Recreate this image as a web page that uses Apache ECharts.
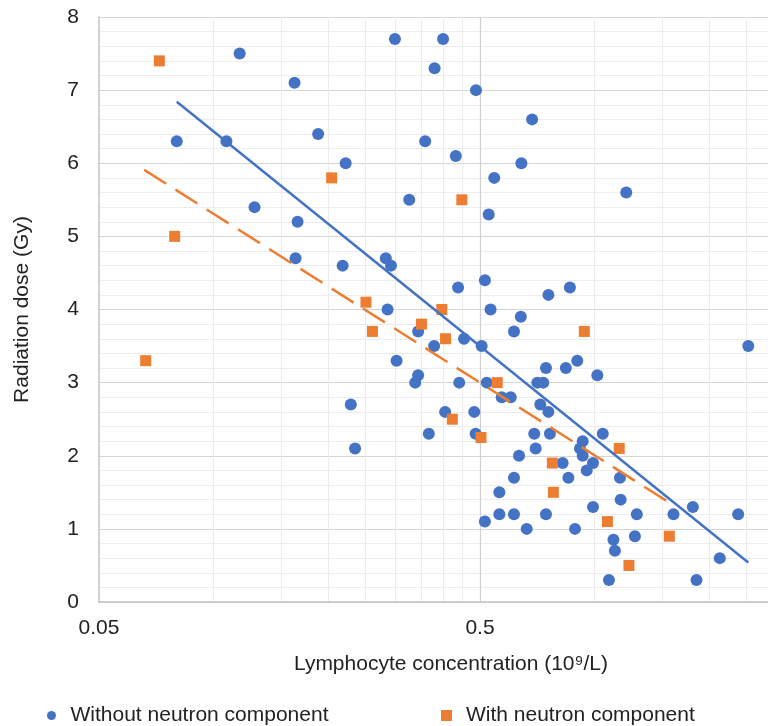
<!DOCTYPE html>
<html>
<head>
<meta charset="utf-8">
<script src="https://cdn.jsdelivr.net/npm/echarts@6/dist/echarts.min.js"></script>
<style>
html, body { margin: 0; padding: 0; background: #fff; }
#chart { width: 768px; height: 726px; }
</style>
</head>
<body>
<div id="chart"></div>
<script>
// lymphocyte concentration (10^9/L) vs radiation dose (Gy)
var blueX = [0.117, 0.163, 0.080, 0.108, 0.188, 0.128, 0.166, 0.299, 0.400, 0.380,
	0.488, 0.685, 0.222, 0.359, 0.432, 0.642, 0.545, 0.326, 0.527, 1.21,
	0.164, 0.218, 0.283, 0.292, 0.286, 0.438, 0.515, 0.756, 0.533, 0.640,
	0.614, 0.344, 0.454, 0.379, 0.505, 0.302, 0.745, 0.344, 0.338, 0.441,
	0.521, 0.707, 0.733, 0.570, 0.602, 0.720, 0.756, 0.229, 0.405, 0.483,
	0.861, 2.53, 0.840, 0.900, 1.016, 0.235, 0.367, 0.487, 0.694, 0.763,
	0.700, 0.633, 0.614, 0.562, 0.562, 0.614, 0.745, 0.515, 0.663, 0.824,
	0.853, 0.888, 0.930, 0.915, 0.930, 1.05, 0.99, 0.953, 1.165, 0.99,
	1.17, 1.29, 1.12, 1.275, 1.13, 1.09, 1.85, 2.13, 1.61, 1.81, 2.38];
var blueY = [7.5, 7.1, 6.3, 6.3, 6.4, 5.4, 5.2, 7.7, 7.7, 7.3,
	7.0, 6.6, 6.0, 6.3, 6.1, 6.0, 5.8, 5.5, 5.3, 5.6,
	4.7, 4.6, 4.7, 4.6, 4.0, 4.3, 4.4, 4.2, 4.0, 3.9,
	3.7, 3.7, 3.6, 3.5, 3.5, 3.3, 3.2, 3.1, 3.0, 3.0,
	3.0, 3.0, 3.0, 2.8, 2.8, 2.7, 2.6, 2.7, 2.6, 2.6,
	4.3, 3.5, 3.2, 3.3, 3.1, 2.1, 2.3, 2.3, 2.3, 2.3,
	2.1, 2.0, 1.7, 1.5, 1.2, 1.2, 1.2, 1.1, 1.0, 1.9,
	1.7, 1.0, 2.2, 2.1, 2.0, 2.3, 1.9, 1.8, 1.7, 1.3,
	1.4, 1.2, 0.85, 0.9, 0.7, 0.3, 0.3, 0.6, 1.2, 1.3, 1.2];

var orangeX = [0.072, 0.079, 0.0663, 0.204, 0.448, 0.251, 0.261, 0.397, 0.351, 0.406,
	0.555, 0.423, 0.939, 0.503, 0.774, 0.779, 1.16, 1.08, 1.57, 1.23];
var orangeY = [7.4, 5.0, 3.3, 5.8, 5.5, 4.1, 3.7, 4.0, 3.8, 3.6,
	3.0, 2.5, 3.7, 2.25, 1.9, 1.5, 2.1, 1.1, 0.9, 0.5];

// trendline ends (log fit, straight on the log axis)
var blueTrendX = [0.080, 2.53];
var blueTrendY = [6.84, 0.54];
var orangeTrendX = [0.0657, 1.58];
var orangeTrendY = [5.91, 1.35];

var xLabels = [0.05, 0.5, 5];
var majorX = [0.5];
var minorX = [0.1, 0.15, 0.2, 0.25, 0.3, 0.35, 0.4, 0.45, 1, 1.5, 2, 2.5, 3, 3.5, 4, 4.5];

var BLUE = '#4472C4';
var ORANGE = '#ED7D31';
var FONT = '"Liberation Sans", Arial, sans-serif';

function zip(xs, ys) {
	return xs.map(function(x, i) { return [x, ys[i]]; });
}

var chart = echarts.init(document.getElementById('chart'), null, { renderer: 'canvas' });

var gridLines = minorX.map(function(v) {
	return { xAxis: v, lineStyle: { color: '#ececec', width: 1, type: 'solid' } };
}).concat(majorX.map(function(v) {
	return { xAxis: v, lineStyle: { color: '#cfcfcf', width: 1.2, type: 'solid' } };
}));

var option = {
	animation: false,
	textStyle: { fontFamily: FONT },
	grid: {
		left: 99,
		top: 17,
		width: 762,
		height: 585,
		containLabel: false,
		outerBoundsMode: 'none'
	},
	legend: [{
		data: ['Without neutron component'],
		left: 47,
		top: 705,
		padding: 0,
		icon: 'circle',
		itemWidth: 20,
		itemHeight: 9,
		textStyle: { fontSize: 21, color: '#222', fontFamily: FONT, padding: [0, 0, 0, 4] }
	}, {
		data: ['With neutron component'],
		left: 441,
		top: 705,
		padding: 0,
		icon: 'rect',
		itemWidth: 11,
		itemHeight: 11,
		textStyle: { fontSize: 21, color: '#222', fontFamily: FONT, padding: [0, 0, 0, 9] }
	}],
	xAxis: {
		type: 'log',
		logBase: 10,
		min: 0.05,
		max: 5,
		name: 'Lymphocyte concentration (10\u2079/L)',
		nameLocation: 'middle',
		nameGap: 52,
		nameTextStyle: { fontSize: 21, color: '#222', padding: [0, 58, 0, 0] },
		axisLine: { show: true, lineStyle: { color: '#c4c4c4', width: 1.5 } },
		axisTick: { show: false, customValues: xLabels },
		axisLabel: {
			customValues: xLabels,
			fontSize: 21,
			color: '#222',
			margin: 16,
			formatter: function(v) { return String(+v.toPrecision(3)); }
		},
		splitLine: { show: false }
	},
	yAxis: {
		type: 'value',
		min: 0,
		max: 8,
		interval: 1,
		name: 'Radiation dose (Gy)',
		nameLocation: 'middle',
		nameGap: 66,
		nameTextStyle: { fontSize: 21, color: '#222' },
		axisLine: { show: true, lineStyle: { color: '#c4c4c4', width: 1.5 } },
		axisTick: { show: false },
		axisLabel: { fontSize: 21, color: '#222', margin: 20 },
		splitLine: { show: true, lineStyle: { color: '#d6d6d6', width: 1.2 } },
		minorTick: { show: false, splitNumber: 5 },
		minorSplitLine: { show: true, lineStyle: { color: '#ececec', width: 1 } }
	},
	series: [{
			// vertical grid lines of the log axis
			type: 'line',
			name: 'grid',
			data: [],
			silent: true,
			z: 0,
			markLine: {
				silent: true,
				z: 0,
				symbol: 'none',
				label: { show: false },
				emphasis: { disabled: true },
				data: gridLines
			}
		},
		{
			type: 'scatter',
			name: 'Without neutron component',
			symbol: 'circle',
			symbolSize: 12,
			itemStyle: { color: BLUE, opacity: 1 },
			data: zip(blueX, blueY),
			z: 3
		},
		{
			type: 'scatter',
			name: 'With neutron component',
			symbol: 'rect',
			symbolSize: 11,
			itemStyle: { color: ORANGE, opacity: 1 },
			data: zip(orangeX, orangeY),
			z: 4
		},
		{ // blue trendline
			type: 'line',
			name: 'blueTrend',
			data: zip(blueTrendX, blueTrendY),
			symbol: 'none',
			silent: true,
			lineStyle: { color: BLUE, width: 2.5 },
			z: 5
		},
		{ // orange trendline, long dash
			type: 'line',
			name: 'orangeTrend',
			data: zip(orangeTrendX, orangeTrendY),
			symbol: 'none',
			silent: true,
			lineStyle: { color: ORANGE, width: 2.5, type: [26, 11] },
			z: 5
		}
	]
};

chart.setOption(option);
</script>
</body>
</html>
